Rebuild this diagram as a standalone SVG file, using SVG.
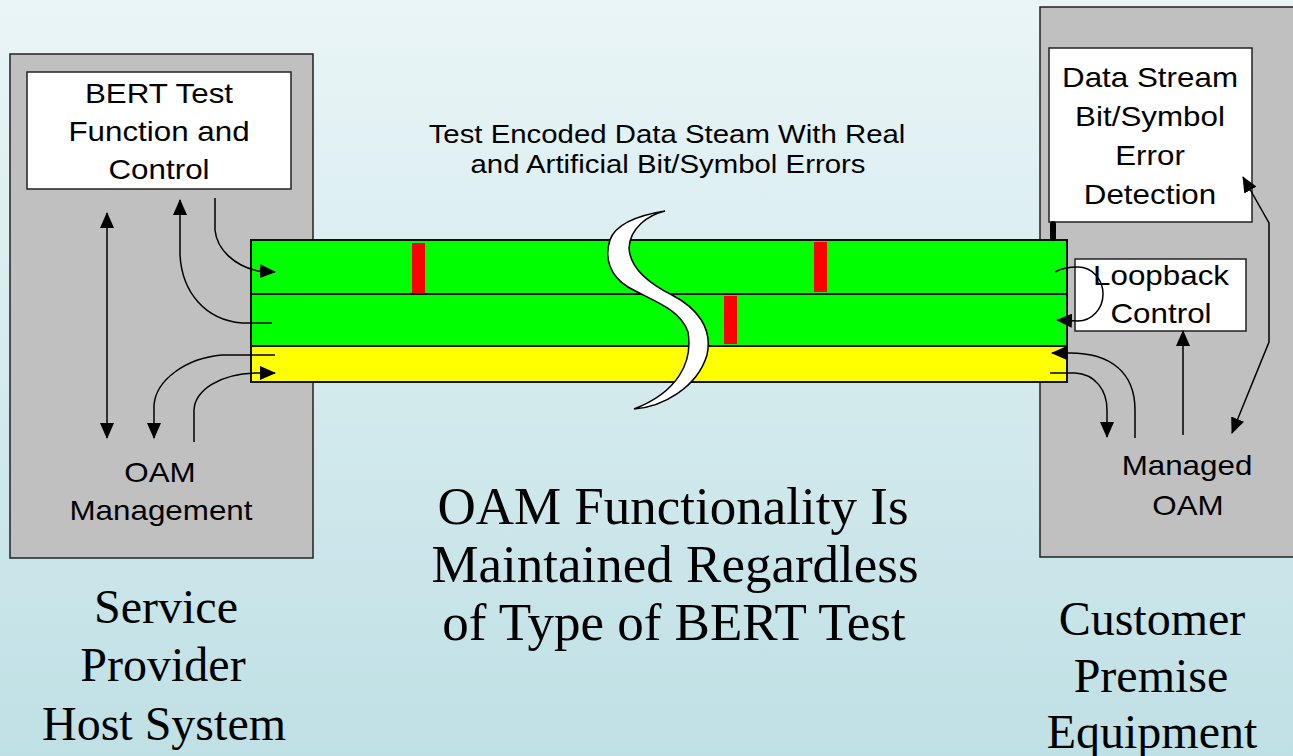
<svg xmlns="http://www.w3.org/2000/svg" width="1293" height="756" viewBox="0 0 1293 756">
<defs>
<linearGradient id="bg" x1="0" y1="0" x2="0" y2="1">
<stop offset="0" stop-color="#eaf5f6"/>
<stop offset="1" stop-color="#bfe0e5"/>
</linearGradient>
<marker id="ah" viewBox="0 0 16 14" refX="15" refY="7" markerWidth="16" markerHeight="14" orient="auto-start-reverse" markerUnits="userSpaceOnUse">
<path d="M0,0 L16,7 L0,14 z" fill="#000"/>
</marker>
<style>
.panel{fill:#c0c0c0;stroke:#222;stroke-width:1.5}
.box{fill:#fff;stroke:#222;stroke-width:1.5}
.green{fill:#00ff00;stroke:#111;stroke-width:2}
.yellow{fill:#ffff00;stroke:#111;stroke-width:2}
.err{fill:#ff0000}
.sans{font-family:"Liberation Sans",Arial,sans-serif;font-size:28px;fill:#000;text-anchor:middle}
.title{font-family:"Liberation Sans",Arial,sans-serif;font-size:26px;fill:#000;text-anchor:middle}
.serif{font-family:"Liberation Serif","Times New Roman",serif;font-size:48px;fill:#000;text-anchor:middle}
.big{font-family:"Liberation Serif","Times New Roman",serif;font-size:53px;fill:#000;text-anchor:middle}
.conn path{fill:none;stroke:#000;stroke-width:1.5}
</style>
</defs>
<rect x="0" y="0" width="1293" height="756" fill="url(#bg)"/>

<g id="host-panel">
<rect class="panel" x="10" y="54" width="303" height="504"/>
</g>
<g id="cpe-panel">
<rect class="panel" x="1040" y="7" width="262" height="550"/>
</g>

<g id="bert-box">
<rect class="box" x="27" y="72" width="264" height="117"/>
<text class="sans" transform="translate(159,103) scale(1.12,1)">BERT Test</text>
<text class="sans" transform="translate(159,141) scale(1.12,1)">Function and</text>
<text class="sans" transform="translate(159,179) scale(1.12,1)">Control</text>
</g>

<g id="error-detection-box">
<rect class="box" x="1049" y="48" width="203" height="174"/>
<text class="sans" transform="translate(1150,87) scale(1.12,1)">Data Stream</text>
<text class="sans" transform="translate(1150,126) scale(1.12,1)">Bit/Symbol</text>
<text class="sans" transform="translate(1150,165) scale(1.12,1)">Error</text>
<text class="sans" transform="translate(1150,204) scale(1.12,1)">Detection</text>
</g>

<g id="loopback-box">
<rect class="box" x="1075" y="259" width="171" height="72"/>
<text class="sans" transform="translate(1161,285) scale(1.12,1)">Loopback</text>
<text class="sans" transform="translate(1161,323) scale(1.12,1)">Control</text>
</g>

<g id="data-stream">
<rect class="green" x="251" y="240" width="816" height="54"/>
<rect class="green" x="251" y="294" width="816" height="52"/>
<rect class="yellow" x="251" y="346" width="816" height="36"/>
<rect class="err" x="412" y="243" width="13" height="50"/>
<rect class="err" x="814" y="242" width="13" height="50"/>
<rect class="err" x="724" y="296" width="13" height="48"/>
<path d="M665,211 C640,215 616,223 610,240 C604,258 610,276 628,287 C650,300 680,308 688,332 C693,362 678,392 634,409 C662,407 697,388 707,355 C713,328 697,308 672,295 C648,283 630,268 629,248 C630,228 648,215 665,211 Z" fill="#fff" stroke="#000" stroke-width="1.5"/>
</g>

<g id="title">
<text class="title" transform="translate(667,143) scale(1.13,1)">Test Encoded Data Steam With Real</text>
<text class="title" transform="translate(668,173) scale(1.13,1)">and Artificial Bit/Symbol Errors</text>
</g>

<g id="oam-management">
<text class="sans" transform="translate(160,482) scale(1.12,1)">OAM</text>
<text class="sans" transform="translate(161,520) scale(1.12,1)">Management</text>
</g>

<g id="managed-oam">
<text class="sans" transform="translate(1187,475) scale(1.12,1)">Managed</text>
<text class="sans" transform="translate(1188,515) scale(1.12,1)">OAM</text>
</g>

<g id="conclusion">
<text class="big" x="673" y="524">OAM Functionality Is</text>
<text class="big" x="675" y="582">Maintained Regardless</text>
<text class="big" x="674" y="640">of Type of BERT Test</text>
</g>

<g id="host-label">
<text class="serif" x="166" y="623">Service</text>
<text class="serif" x="163" y="681">Provider</text>
<text class="serif" x="164" y="740">Host System</text>
</g>

<g id="cpe-label">
<text class="serif" x="1152" y="635">Customer</text>
<text class="serif" x="1151" y="692">Premise</text>
<text class="serif" x="1152" y="748">Equipment</text>
</g>

<g id="connectors" class="conn">
<path d="M107,213 L107,438" marker-start="url(#ah)" marker-end="url(#ah)"/>
<path d="M272,323 L242,323 C205,320 182,292 180,255 L180,200" marker-end="url(#ah)"/>
<path d="M215,198 L215,230 C217,250 235,266 258,271 L275,272" marker-end="url(#ah)"/>
<path d="M275,355 L222,355 C186,358 156,380 154,405 L154,438" marker-end="url(#ah)"/>
<path d="M194,442 L194,410 C195,390 220,374 255,373 L275,373" marker-end="url(#ah)"/>
<path d="M1053,224 L1053,238" style="stroke-width:6;stroke-linecap:round"/>
<path d="M1055,272 C1062,268 1070,267 1078,267 A25,27 0 0 1 1078,321 L1057,320" marker-end="url(#ah)"/>
<path d="M1135,438 L1135,410 C1135,372 1110,353 1070,353 L1052,353" marker-end="url(#ah)"/>
<path d="M1050,373 L1075,373 C1095,374 1107,390 1107,410 L1107,437" marker-end="url(#ah)"/>
<path d="M1183,435 L1183,331" marker-end="url(#ah)"/>
<path d="M1243,177 L1269,223 L1269,342 L1232,433" marker-start="url(#ah)" marker-end="url(#ah)"/>
</g>
</svg>
